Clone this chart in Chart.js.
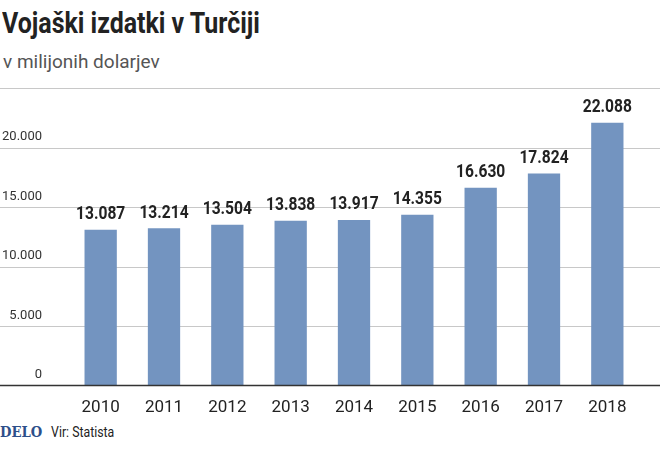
<!DOCTYPE html>
<html><head><meta charset="utf-8">
<script src="https://cdn.jsdelivr.net/npm/chart.js@4"></script>
<style>
body{margin:0;width:660px;height:450px;background:#fff;position:relative;overflow:hidden;font-family:Roboto,sans-serif}
#t{position:absolute;left:2px;top:6px;font:bold 29px Roboto,sans-serif;color:#222;transform:scaleX(0.86);transform-origin:0 0}
#s{position:absolute;left:3px;top:50px;font:19px Roboto,sans-serif;color:#555}
#f{position:absolute;left:0;top:423px;font:14px Roboto,sans-serif;color:#222;transform:scaleX(0.88);transform-origin:0 0}
#f b{font:bold 15px "DejaVu Serif",serif;color:#2d4f8a;margin-right:10px}
canvas{position:absolute;left:0;top:0}
</style></head><body>
<div id="t">Vojaški izdatki v Turčiji</div>
<div id="s">v milijonih dolarjev</div>
<div id="f"><b>DELO</b>Vir: Statista</div>
<canvas id="c" width="660" height="450"></canvas>
<script>
const years = ["2010","2011","2012","2013","2014","2015","2016","2017","2018"];
const spending = [13087,13214,13504,13838,13917,14355,16630,17824,22088];
const yTicks = [0,5000,10000,15000,20000,25000];
const fmt = (v) => v.toLocaleString("de-DE");

// full-width grid, tick labels above lines, value labels on bars
const extras = {
  id: "extras",
  beforeDatasetsDraw(chart) {
    const ctx = chart.ctx, y = chart.scales.y;
    ctx.save();
    ctx.strokeStyle = "#c8c8c8";
    ctx.lineWidth = 1;
    yTicks.slice(1).forEach((v) => {
      const py = Math.round(y.getPixelForValue(v)) + 0.5;
      ctx.beginPath(); ctx.moveTo(0, py); ctx.lineTo(660, py); ctx.stroke();
    });
    ctx.restore();
  },
  afterDraw(chart) {
    const ctx = chart.ctx, y = chart.scales.y;
    ctx.save();
    ctx.strokeStyle = "#333";
    ctx.lineWidth = 1.5;
    const by = y.getPixelForValue(0);
    ctx.beginPath(); ctx.moveTo(0, by); ctx.lineTo(660, by); ctx.stroke();
    ctx.font = "13px Roboto, sans-serif";
    ctx.fillStyle = "#333";
    ctx.textAlign = "right";
    ctx.textBaseline = "bottom";
    yTicks.slice(0, 5).forEach((v) => ctx.fillText(fmt(v), 42, y.getPixelForValue(v) - 4));
    const meta = chart.getDatasetMeta(0);
    ctx.font = "bold 19px Roboto, sans-serif";
    ctx.fillStyle = "#222";
    ctx.textAlign = "center";
    meta.data.forEach((bar, i) => {
      ctx.save();
      ctx.translate(bar.x, bar.y - 6);
      ctx.scale(0.82, 1);
      ctx.fillText(fmt(spending[i]), 0, 0);
      ctx.restore();
    });
    ctx.restore();
  },
};

new Chart(document.getElementById("c"), {
  type: "bar",
  data: {
    labels: years,
    datasets: [{ data: spending, backgroundColor: "#7394c0", barPercentage: 0.51, categoryPercentage: 1 }],
  },
  options: {
    responsive: false,
    animation: false,
    layout: { padding: { top: 88, left: 69, right: 21, bottom: 28 } },
    plugins: { legend: { display: false }, tooltip: { enabled: false } },
    scales: {
      x: {
        grid: { display: false },
        border: { display: false },
        ticks: { color: "#222", font: { size: 17, family: "Roboto, sans-serif" }, padding: 4 },
      },
      y: {
        min: 0,
        max: 25000,
        afterFit: (s) => { s.width = 0; },
        ticks: { stepSize: 5000, display: false },
        grid: { display: false },
        border: { display: false },
      },
    },
  },
  plugins: [extras],
});
</script>
</body></html>
